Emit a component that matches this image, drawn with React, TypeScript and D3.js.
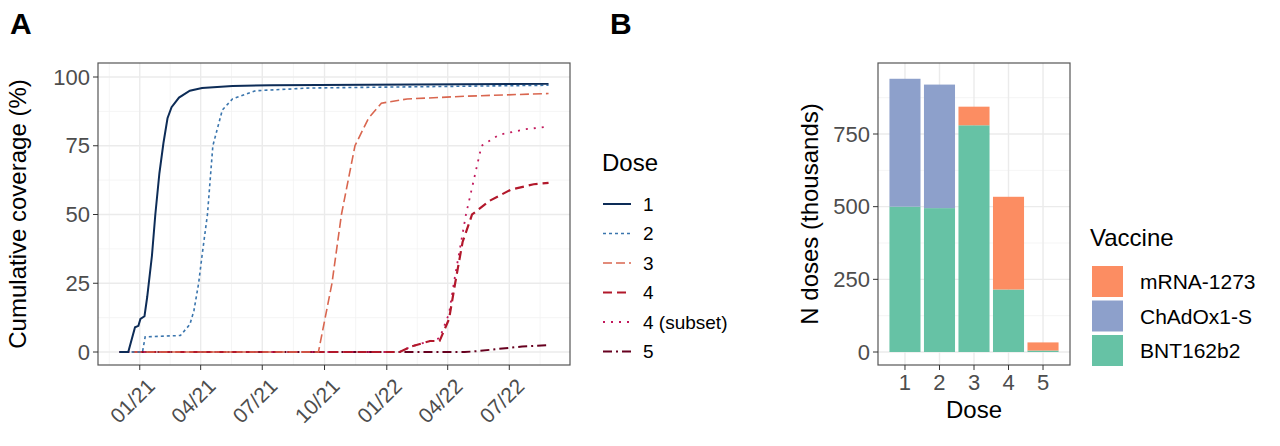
import React from "react";
import * as d3 from "d3";

const doseNames = ["1", "2", "3", "4", "4 (subset)", "5"];
const doseColors = ["#0d2c57", "#3a75ad", "#d9664f", "#b2182b", "#c2185b", "#67001f"];
const doseDash = ["", "3,3", "9,4", "9,5", "2,6", "9,4,2,4"];
const doseWidth = [2, 1.6, 1.6, 2.2, 1.8, 2];

// [date, coverage %]
const dose1: [string, number][] = [["2020-12-02", 0], ["2020-12-15", 0], ["2020-12-25", 9], ["2020-12-30", 9.5], ["2021-01-02", 12], ["2021-01-08", 13], ["2021-01-12", 20], ["2021-01-19", 35], ["2021-01-24", 50], ["2021-01-30", 65], ["2021-02-05", 76], ["2021-02-11", 85], ["2021-02-17", 89], ["2021-02-28", 92.5], ["2021-03-16", 95], ["2021-04-03", 96], ["2021-05-18", 96.7], ["2021-07-14", 97], ["2022-08-28", 97.5]];
const dose2: [string, number][] = [["2020-12-02", 0], ["2021-01-05", 0], ["2021-01-09", 5.5], ["2021-03-02", 6], ["2021-03-16", 10], ["2021-03-22", 15], ["2021-03-29", 25], ["2021-04-03", 35], ["2021-04-11", 50], ["2021-04-19", 75], ["2021-05-03", 88], ["2021-05-18", 92], ["2021-06-21", 95], ["2021-09-09", 96], ["2022-08-28", 97]];
const dose3: [string, number][] = [["2020-12-02", 0], ["2021-09-22", 0], ["2021-10-12", 25], ["2021-10-26", 50], ["2021-11-15", 75], ["2021-12-05", 85], ["2021-12-24", 90.5], ["2022-01-31", 92], ["2022-04-26", 93], ["2022-08-28", 94]];
const dose4: [string, number][] = [["2020-12-02", 0], ["2022-01-20", 0], ["2022-02-06", 2], ["2022-03-06", 4], ["2022-03-20", 4], ["2022-04-03", 12], ["2022-04-12", 25], ["2022-04-23", 40], ["2022-05-07", 50], ["2022-06-02", 55], ["2022-07-03", 59], ["2022-08-06", 61], ["2022-08-28", 61.5]];
const dose4sub: [string, number][] = [["2020-12-02", 0], ["2022-01-20", 0], ["2022-02-06", 2], ["2022-03-06", 4], ["2022-03-20", 5], ["2022-04-03", 14], ["2022-04-10", 25], ["2022-04-28", 50], ["2022-05-21", 75], ["2022-06-16", 79], ["2022-07-25", 81], ["2022-08-28", 82]];
const dose5: [string, number][] = [["2020-12-02", 0], ["2022-04-26", 0], ["2022-05-15", 0.3], ["2022-06-10", 1], ["2022-07-20", 2], ["2022-08-28", 2.5]];
const doseSeries = [dose1, dose2, dose3, dose4, dose4sub, dose5];

const xTickDates = ["2021-01-01", "2021-04-01", "2021-07-01", "2021-10-01", "2022-01-01", "2022-04-01", "2022-07-01"];
const xTickLabels = ["01/21", "04/21", "07/21", "10/21", "01/22", "04/22", "07/22"];
const yTicksA = [0, 25, 50, 75, 100];

const doses = ["1", "2", "3", "4", "5"];
const vaccines = ["BNT162b2", "ChAdOx1-S", "mRNA-1273"];
const bnt = [500, 495, 780, 215, 5];
const chad = [440, 425, 0, 0, 0];
const mrna = [0, 0, 64, 319, 28];
const vacColors = ["#66c2a5", "#8da0cb", "#fc8d62"];
const yTicksB = [0, 250, 500, 750];

const font = "Liberation Sans, Arial, sans-serif";
const grey = "#4d4d4d";
const parse = d3.timeParse("%Y-%m-%d");

export default function App() {
  // Panel A
  const a = { l: 98, r: 570, t: 63, b: 365 };
  const pad = 472 * 0.05 / 1.1;
  const x = d3.scaleTime()
    .domain([parse("2020-12-02")!, parse("2022-08-28")!])
    .range([a.l + pad, a.r - pad]);
  const y = d3.scaleLinear().domain([0, 100]).range([352, 77]);
  const line = d3.line<[string, number]>().x((d) => x(parse(d[0])!)).y((d) => y(d[1]));
  const xMinor = xTickDates.slice(0, -1).map((d, i) => new Date((parse(d)!.getTime() + parse(xTickDates[i + 1])!.getTime()) / 2));
  xMinor.unshift(new Date(2 * parse(xTickDates[0])!.getTime() - xMinor[0].getTime()));
  xMinor.push(new Date(2 * parse(xTickDates[6])!.getTime() - xMinor[xMinor.length - 1].getTime()));

  // Panel B
  const bp = { l: 878, r: 1070, t: 63, b: 365 };
  const xb = d3.scaleBand().domain(doses).range([bp.l + 8, bp.r - 8]).padding(0.1);
  const yb = d3.scaleLinear().domain([0, 750]).range([352, 134]);
  const stackRows = doses.map((d, i) => ({ dose: d, "BNT162b2": bnt[i], "ChAdOx1-S": chad[i], "mRNA-1273": mrna[i] }));
  const stacked = d3.stack<any>().keys(vaccines)(stackRows);

  return (
    <svg width={1280} height={446} style={{ display: "block", position: "absolute", left: 0, top: 0, fontFamily: font }}>
      <text x={10} y={34} fontSize={30} fontWeight="bold">A</text>
      <text x={610} y={34} fontSize={30} fontWeight="bold">B</text>

      {/* Panel A grid */}
      <clipPath id="ca"><rect x={a.l} y={a.t} width={a.r - a.l} height={a.b - a.t} /></clipPath>
      <g clipPath="url(#ca)">
        {xMinor.map((d, i) => <line key={"xm" + i} x1={x(d)} x2={x(d)} y1={a.t} y2={a.b} stroke="#f2f2f2" strokeWidth={0.8} />)}
        {[12.5, 37.5, 62.5, 87.5].map((v) => <line key={"ym" + v} x1={a.l} x2={a.r} y1={y(v)} y2={y(v)} stroke="#f2f2f2" strokeWidth={0.8} />)}
        {xTickDates.map((d) => <line key={d} x1={x(parse(d)!)} x2={x(parse(d)!)} y1={a.t} y2={a.b} stroke="#ebebeb" strokeWidth={1.4} />)}
        {yTicksA.map((v) => <line key={v} x1={a.l} x2={a.r} y1={y(v)} y2={y(v)} stroke="#ebebeb" strokeWidth={1.4} />)}
        {doseSeries.slice().reverse().map((s, ri) => {
          const i = doseSeries.length - 1 - ri;
          return <path key={i} d={line(s)!} fill="none" stroke={doseColors[i]} strokeWidth={doseWidth[i]} strokeDasharray={doseDash[i]} />;
        })}
      </g>
      <rect x={a.l} y={a.t} width={a.r - a.l} height={a.b - a.t} fill="none" stroke="#555" strokeWidth={1.2} />
      {yTicksA.map((v) => (
        <g key={v}>
          <line x1={a.l - 5} x2={a.l} y1={y(v)} y2={y(v)} stroke="#333" />
          <text x={a.l - 8} y={y(v)} dy="0.35em" textAnchor="end" fontSize={22} fill={grey}>{v}</text>
        </g>
      ))}
      {xTickDates.map((d, i) => {
        const px = x(parse(d)!);
        return (
          <g key={d}>
            <line x1={px} x2={px} y1={a.b} y2={a.b + 5} stroke="#333" />
            <text transform={`translate(${px + 6},${a.b + 12}) rotate(-45)`} textAnchor="end" dy="0.7em" fontSize={21} fill={grey}>{xTickLabels[i]}</text>
          </g>
        );
      })}
      <text transform={`translate(26,${(a.t + a.b) / 2}) rotate(-90)`} textAnchor="middle" fontSize={24}>Cumulative coverage (%)</text>

      {/* Legend A */}
      <text x={602} y={171} fontSize={24}>Dose</text>
      {doseNames.map((n, i) => {
        const ly = 204 + i * 29.5;
        return (
          <g key={n}>
            <line x1={603} x2={631} y1={ly} y2={ly} stroke={doseColors[i]} strokeWidth={doseWidth[i]} strokeDasharray={doseDash[i]} />
            <text x={643} y={ly} dy="0.35em" fontSize={19}>{n}</text>
          </g>
        );
      })}

      {/* Panel B */}
      <clipPath id="cb"><rect x={bp.l} y={bp.t} width={bp.r - bp.l} height={bp.b - bp.t} /></clipPath>
      <g clipPath="url(#cb)">
        {[125, 375, 625, 875].map((v) => <line key={v} x1={bp.l} x2={bp.r} y1={yb(v)} y2={yb(v)} stroke="#f2f2f2" strokeWidth={0.8} />)}
        {yTicksB.map((v) => <line key={v} x1={bp.l} x2={bp.r} y1={yb(v)} y2={yb(v)} stroke="#ebebeb" strokeWidth={1.4} />)}
        {doses.map((d) => <line key={d} x1={xb(d)! + xb.bandwidth() / 2} x2={xb(d)! + xb.bandwidth() / 2} y1={bp.t} y2={bp.b} stroke="#ebebeb" strokeWidth={1.4} />)}
        {stacked.map((layer, li) => layer.map((seg, di) => (
          seg[1] > seg[0] ? <rect key={li + "-" + di} x={xb(doses[di])} width={xb.bandwidth()} y={yb(seg[1])} height={yb(seg[0]) - yb(seg[1])} fill={vacColors[li]} /> : null
        )))}
      </g>
      <rect x={bp.l} y={bp.t} width={bp.r - bp.l} height={bp.b - bp.t} fill="none" stroke="#555" strokeWidth={1.2} />
      {yTicksB.map((v) => (
        <g key={v}>
          <line x1={bp.l - 5} x2={bp.l} y1={yb(v)} y2={yb(v)} stroke="#333" />
          <text x={bp.l - 8} y={yb(v)} dy="0.35em" textAnchor="end" fontSize={22} fill={grey}>{v}</text>
        </g>
      ))}
      {doses.map((d) => {
        const px = xb(d)! + xb.bandwidth() / 2;
        return (
          <g key={d}>
            <line x1={px} x2={px} y1={bp.b} y2={bp.b + 5} stroke="#333" />
            <text x={px} y={bp.b + 25} textAnchor="middle" fontSize={22} fill={grey}>{d}</text>
          </g>
        );
      })}
      <text x={(bp.l + bp.r) / 2} y={418} textAnchor="middle" fontSize={24}>Dose</text>
      <text transform={`translate(818,${(bp.t + bp.b) / 2}) rotate(-90)`} textAnchor="middle" fontSize={24}>N doses (thousands)</text>

      {/* Legend B */}
      <text x={1090} y={246} fontSize={24}>Vaccine</text>
      {vaccines.slice().reverse().map((v, i) => {
        const ly = 266 + i * 34.5;
        return (
          <g key={v}>
            <rect x={1092} y={ly} width={31} height={31} fill={vacColors[vaccines.length - 1 - i]} />
            <text x={1140} y={ly + 16} dy="0.35em" fontSize={21}>{v}</text>
          </g>
        );
      })}
    </svg>
  );
}
